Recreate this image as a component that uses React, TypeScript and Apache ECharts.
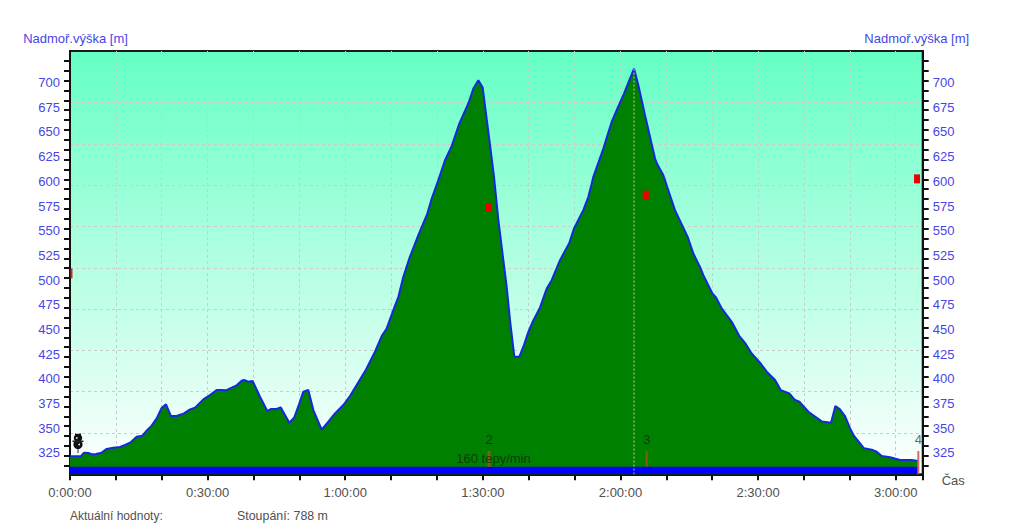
import React, { useEffect, useRef } from "react";
import * as echarts from "echarts";

const FONT = "'Liberation Sans', Arial, sans-serif";

// Elevation profile: seconds from start
const times = [
  0, 140, 183, 240, 292, 340, 414, 480, 567, 654, 720, 794, 872, 946, 1011, 1068, 1134, 1195, 1256, 1321,
  1395, 1491, 1570, 1635, 1744, 1831, 1918, 1971, 2040, 2115, 2180, 2245, 2276, 2332, 2389, 2485, 2581, 2625, 2703, 2755,
  2869, 2934, 3000, 3052, 3117, 3183, 3292, 3379, 3466, 3575, 3662, 3872, 3989, 4077, 4142, 4229, 4295, 4360, 4438, 4556,
  4674, 4731, 4818, 4905, 4992, 5092, 5210, 5276, 5341, 5398, 5441, 5494, 5546, 5603, 5668, 5712, 5755, 5812, 5877, 5930,
  5995, 6052, 6148, 6235, 6300, 6409, 6531, 6592, 6714, 6780, 6845, 6976, 7085, 7150, 7246, 7377, 7434, 7521, 7652, 7682,
  7761, 7826, 7913, 8079, 8153, 8240, 8284, 8402, 8450, 8524, 8655, 8755, 8829, 8916, 9025, 9113, 9222, 9296, 9409, 9483,
  9540, 9658, 9832, 9954, 10011, 10063, 10137, 10203, 10255, 10386, 10486, 10551, 10617, 10726, 10857, 11009, 11092,
];
// Elevation in metres
const elevations = [
  319.5, 319.5, 323.2, 322.9, 321.5, 321.9, 323.2, 327, 328.3, 329, 331, 333.7, 339.4, 340.4, 346.2, 350.6, 358, 368.1, 372.2, 360.3,
  360.3, 363, 367.1, 368.8, 377.2, 381.6, 386.7, 386.7, 386.3, 389, 391.4, 396.1, 396.8, 395.1, 395.8, 379.9, 365.4, 367.4, 367.4, 369.1,
  353.6, 359, 373.2, 385, 386.7, 366.4, 346.5, 354.6, 363, 371.5, 380.6, 407.5, 425.4, 441.3, 449, 467.6, 481.1, 501.3, 519.9, 543.5,
  565.4, 580.6, 599.2, 619.4, 633.6, 656.5, 676.8, 692, 700.4, 693, 666.6, 634.6, 602.5, 558.7, 518.2, 491.2, 457.5, 420.3, 420.3, 430.5,
  445.6, 455.8, 470.3, 489.5, 497.9, 518.2, 535.7, 550.2, 568.8, 582.3, 602.5, 631.2, 658.2, 670, 686.9, 712.2, 695.3, 664.9, 621.1, 615.3,
  604.2, 589, 568.8, 541.8, 524.9, 511.4, 503, 484.5, 480.4, 469.3, 455.8, 441.3, 434.5, 423.7, 414.3, 405.2, 396.8, 386.6, 383.3, 376.5,
  374.8, 364.7, 354.9, 353.6, 370.4, 367.7, 360.3, 347.8, 340.1, 327.6, 326.2, 324.2, 319.8, 318.5, 315.8, 315.8, 314.8,
];

const redMarks = [
  [5467, 571.6],
  [7530, 584],
  [11079, 600.5],
];
const startMark = [0, 504.8];

const barLevel = 309;
const cursorTime = 7377;
const cursorTop = 712.2;

const lapTimes = [5481, 7543, 11096];
const lapNames = ["2", "3", "4"];
const lapTop = 325;
const lapTextLevel = 337;
const lapColors = ["#8a5a10", "#8a5a10", "#d86a6a"];
const lapWidths = [3, 2, 2];
const pulseLabel = { time: 5539, level: 317.8, text: "160 tepy/min" };

const yLabels = [325, 350, 375, 400, 425, 450, 475, 500, 525, 550, 575, 600, 625, 650, 675, 700];
const yTicks = [
  310, 320, 330, 340, 350, 360, 370, 380, 390, 400, 410, 420, 430, 440, 450, 460, 470, 480, 490, 500, 510,
  520, 530, 540, 550, 560, 570, 580, 590, 600, 610, 620, 630, 640, 650, 660, 670, 680, 690, 700, 710, 720,
];
const xLabels = [0, 1800, 3600, 5400, 7200, 9000, 10800];

const Y_MIN = 301.3;
const Y_MAX = 730;
const X_MAX = 11153;

const fmtTime = (s: number) => {
  const h = Math.floor(s / 3600);
  const m = Math.floor((s % 3600) / 60);
  const ss = s % 60;
  return `${h}:${String(m).padStart(2, "0")}:${String(ss).padStart(2, "0")}`;
};

const BLUE_TEXT = "#4646E6";
const GRAY_TEXT = "#505050";

const yAxisOf = (position: "left" | "right") => ({
  type: "value",
  position,
  min: Y_MIN,
  max: Y_MAX,
  name: "Nadmoř.výška [m]",
  nameLocation: "end",
  nameGap: 6,
  nameTextStyle: {
    color: BLUE_TEXT,
    fontFamily: FONT,
    fontSize: 13,
    padding: position === "left" ? [0, 0, 0, 11] : [0, 12, 0, 0],
  },
  axisLine: { show: true, lineStyle: { color: "#111", width: 2 } },
  axisTick: { show: true, length: 6, customValues: yTicks, lineStyle: { color: "#111", width: 2 } },
  axisLabel: {
    show: true,
    customValues: yLabels,
    margin: 10,
    color: BLUE_TEXT,
    fontFamily: FONT,
    fontSize: 13,
    verticalAlign: "top",
    lineHeight: 4,
  },
  splitLine: { show: false },
});

export default function App() {
  const ref = useRef<HTMLDivElement>(null);
  useEffect(() => {
    const chart = echarts.init(ref.current!, null, { renderer: "svg" });
    const lineOff = { width: 0 };
    chart.setOption({
      animation: false,
      backgroundColor: "#ffffff",
      grid: {
        show: true,
        left: 70,
        top: 51,
        width: 852.7,
        height: 423.3,
        borderColor: "#1a1a1a",
        borderWidth: 2,
        backgroundColor: new echarts.graphic.LinearGradient(0, 0, 0, 1, [
          { offset: 0, color: "#64FFC4" },
          { offset: 1, color: "#FFFFFF" },
        ]),
      },
      xAxis: {
        type: "value",
        min: 0,
        max: X_MAX,
        interval: 600,
        name: "Čas",
        nameLocation: "end",
        nameGap: 19,
        nameTextStyle: { color: GRAY_TEXT, fontFamily: FONT, fontSize: 13, verticalAlign: "top" },
        axisLine: { show: true, lineStyle: { color: "#111", width: 2 } },
        axisTick: { show: true, length: 6, lineStyle: { color: "#111", width: 2 } },
        axisLabel: {
          customValues: xLabels,
          formatter: (v: number) => fmtTime(v),
          margin: 12,
          color: GRAY_TEXT,
          fontFamily: FONT,
          fontSize: 13,
        },
        splitLine: { show: true, showMaxLine: false, lineStyle: { color: "#CCCCCC", type: [3, 3], width: 1 } },
      },
      yAxis: [
        yAxisOf("left"),
        yAxisOf("right"),
        {
          type: "value",
          position: "left",
          min: 0,
          max: 10.25,
          interval: 1,
          axisLine: { show: false },
          axisTick: { show: false },
          axisLabel: { show: false },
          splitLine: { show: true, showMinLine: false, showMaxLine: false, lineStyle: { color: "#CCCCCC", type: [3, 3], width: 1 } },
        },
      ],
      series: [
        {
          type: "line",
          name: "Nadmořská výška",
          data: times.map((t, i) => [t, elevations[i]]),
          showSymbol: false,
          symbol: "none",
          lineStyle: { color: "#1428DC", width: 2 },
          areaStyle: { color: "#008000", opacity: 1, origin: "start" },
          z: 3,
        },
        {
          type: "line",
          name: "Pás",
          data: [
            [0, barLevel],
            [times[times.length - 1], barLevel],
          ],
          symbol: "none",
          lineStyle: lineOff,
          areaStyle: { color: "#0000FF", opacity: 1, origin: "start" },
          z: 4,
        },
        {
          type: "line",
          name: "Kurzor",
          data: [
            [cursorTime, cursorTop],
            [cursorTime, Y_MIN],
          ],
          symbol: "none",
          lineStyle: { color: "#C8C8B0", width: 1, type: [2, 2] },
          z: 5,
        },
        ...lapTimes.map((t, i) => ({
          type: "line",
          name: "Kolo " + lapNames[i],
          data: [
            [t, lapTop],
            [t, i === 2 ? Y_MIN : barLevel],
          ],
          symbol: "none",
          lineStyle: { color: lapColors[i], width: lapWidths[i] },
          z: 5,
        })),
        {
          type: "scatter",
          name: "Popisky",
          symbolSize: 0,
          data: [
            ...lapTimes.map((t, i) => ({
              value: [t, lapTextLevel],
              label: {
                show: true,
                position: "inside",
                formatter: lapNames[i],
                color: i === 2 ? "#404040" : "#0c2a0c",
                fontFamily: FONT,
                fontSize: 13,
              },
            })),
            {
              value: [pulseLabel.time, pulseLabel.level],
              label: {
                show: true,
                position: "inside",
                formatter: pulseLabel.text,
                color: "#0c2a0c",
                fontFamily: FONT,
                fontSize: 13,
              },
            },
          ],
          z: 7,
        },
        {
          type: "scatter",
          name: "Tep",
          data: redMarks,
          symbol: "rect",
          symbolSize: [6, 9],
          itemStyle: { color: "#EE0000", opacity: 1 },
          z: 6,
        },
        {
          type: "scatter",
          name: "Tep start",
          data: [startMark],
          symbol: "rect",
          symbolSize: [2, 10],
          symbolOffset: [1.5, 0],
          itemStyle: { color: "#B83030", opacity: 1 },
          z: 6,
        },
      ],
      graphic: [
        {
          type: "group",
          x: 78,
          y: 441,
          silent: true,
          z: 20,
          children: [
            { type: "rect", shape: { x: -7, y: -8, width: 14, height: 18, r: 4 }, style: { fill: "rgba(255,255,255,0.6)" } },
            { type: "line", shape: { x1: 0, y1: 6, x2: 0, y2: 12 }, style: { stroke: "#333", lineWidth: 1 } },
            { type: "rect", shape: { x: -3, y: -7.5, width: 6, height: 2 }, style: { fill: "#111" } },
            { type: "circle", shape: { cx: 0, cy: -3, r: 4.2 }, style: { fill: "#111" } },
            { type: "circle", shape: { cx: 0, cy: 3.5, r: 4.6 }, style: { fill: "#111" } },
            { type: "rect", shape: { x: -5.5, y: -0.5, width: 11, height: 1.5 }, style: { fill: "#222" } },
            { type: "circle", shape: { cx: -1.2, cy: -3, r: 0.9 }, style: { fill: "#e8e8e8" } },
            { type: "circle", shape: { cx: 1.2, cy: 3.5, r: 0.9 }, style: { fill: "#e8e8e8" } },
          ],
        },
        {
          type: "text",
          x: 70,
          y: 516,
          style: { text: "Aktuální hodnoty:", fill: GRAY_TEXT, font: `12px ${FONT}`, verticalAlign: "middle" },
        },
        {
          type: "text",
          x: 237,
          y: 516,
          style: { text: "Stoupání: 788 m", fill: GRAY_TEXT, font: `12.4px ${FONT}`, verticalAlign: "middle" },
        },
      ],
    });
    return () => chart.dispose();
  }, []);
  return (
    <div
      ref={ref}
      style={{ position: "fixed", left: 0, top: 0, width: 1025, height: 530, overflow: "hidden" }}
    />
  );
}
